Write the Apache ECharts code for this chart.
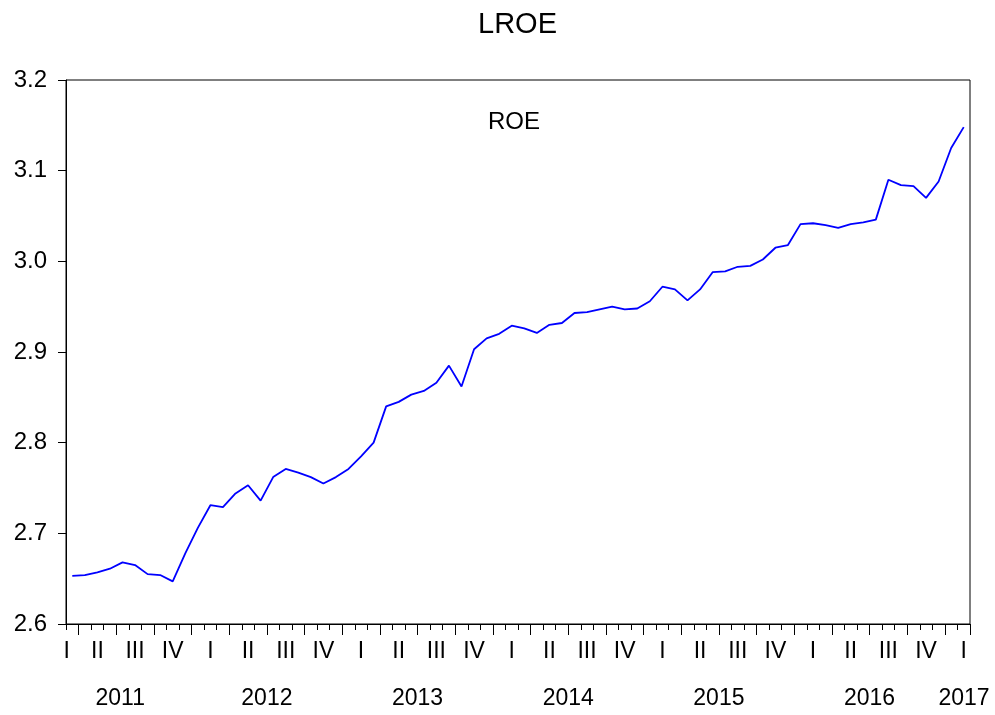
<!DOCTYPE html>
<html><head><meta charset="utf-8">
<script src="https://cdn.jsdelivr.net/npm/echarts@6/dist/echarts.min.js"></script>
<style>html,body{margin:0;padding:0;background:#fff}#c{width:995px;height:715px}</style>
</head><body><div id="c"></div>
<script>
const months = [
  '2011M03','2011M04','2011M05','2011M06','2011M07','2011M08','2011M09','2011M10','2011M11','2011M12',
  '2012M01','2012M02','2012M03','2012M04','2012M05','2012M06','2012M07','2012M08','2012M09','2012M10','2012M11','2012M12',
  '2013M01','2013M02','2013M03','2013M04','2013M05','2013M06','2013M07','2013M08','2013M09','2013M10','2013M11','2013M12',
  '2014M01','2014M02','2014M03','2014M04','2014M05','2014M06','2014M07','2014M08','2014M09','2014M10','2014M11','2014M12',
  '2015M01','2015M02','2015M03','2015M04','2015M05','2015M06','2015M07','2015M08','2015M09','2015M10','2015M11','2015M12',
  '2016M01','2016M02','2016M03','2016M04','2016M05','2016M06','2016M07','2016M08','2016M09','2016M10','2016M11','2016M12',
  '2017M01','2017M02'
];
const lroe = [
  2.653, 2.654, 2.657, 2.661, 2.668, 2.665, 2.655, 2.654, 2.647, 2.678,
  2.706, 2.731, 2.729, 2.744, 2.753, 2.736, 2.762, 2.771, 2.767, 2.762, 2.755, 2.762,
  2.771, 2.785, 2.800, 2.840, 2.845, 2.853, 2.857, 2.866, 2.885, 2.862, 2.903, 2.915,
  2.920, 2.929, 2.926, 2.921, 2.930, 2.932, 2.943, 2.944, 2.947, 2.950, 2.947, 2.948,
  2.956, 2.972, 2.969, 2.957, 2.969, 2.988, 2.989, 2.994, 2.995, 3.002, 3.015, 3.018,
  3.041, 3.042, 3.040, 3.037, 3.041, 3.043, 3.046, 3.090, 3.084, 3.083, 3.070, 3.088,
  3.125, 3.148
];
const quarterLabels = ['I', 'II', 'III', 'IV'];
const yearLabels = ['2011', '2012', '2013', '2014', '2015', '2016', '2017'];
const yMin = 2.6, yMax = 3.2, yStep = 0.1;
const seriesName = 'ROE';
const chartTitle = 'LROE';

const FONT = "'Liberation Sans', Arial, sans-serif";
const boundaries = months.concat(['2017M03']);

const monthAxisData = months.map(function (m, i) {
  if (i === 0) return { value: m, textStyle: { padding: [0, 11, 0, 0] } };
  return m;
});
const boundaryAxisData = boundaries.map(function (m, i) {
  if (i === 4) return { value: m, textStyle: { padding: [0, 0, 0, 8] } };
  if (i === boundaries.length - 1) return { value: m, textStyle: { padding: [0, 12, 0, 0] } };
  return m;
});

function quarterOf(m) { return quarterLabels[Math.floor((parseInt(m.slice(5), 10) - 1) / 3)]; }

const chart = echarts.init(document.getElementById('c'), null, { renderer: 'canvas' });
chart.setOption({
  animation: false,
  backgroundColor: '#ffffff',
  textStyle: { fontFamily: FONT },
  title: {
    text: chartTitle, left: 478, top: 10, padding: 0,
    textStyle: { fontFamily: FONT, fontSize: 29, fontWeight: 'normal', color: '#000' }
  },
  legend: {
    data: [seriesName], icon: 'none', itemWidth: 0, itemHeight: 0, padding: 0,
    left: 483, top: 110, selectedMode: false,
    textStyle: { fontFamily: FONT, fontSize: 24, color: '#000' }
  },
  grid: {
    left: 66, right: 25, top: 80, bottom: 91,
    show: true, borderColor: '#000', borderWidth: 1, backgroundColor: 'transparent'
  },
  xAxis: [
    {
      type: 'category', data: monthAxisData, boundaryGap: true, position: 'bottom',
      axisLine: { show: true, lineStyle: { color: '#000', width: 1 } },
      axisTick: { show: true, interval: 0, length: 6, lineStyle: { color: '#000', width: 1 } },
      axisLabel: {
        interval: function (i) { return i === 0 || i % 3 === 2; },
        formatter: function (v) { return quarterOf(v); },
        fontFamily: FONT, fontSize: 23, color: '#000', margin: 16
      },
      splitLine: { show: false }
    },
    {
      type: 'category', data: months, boundaryGap: true, position: 'bottom',
      axisLine: { show: false },
      axisTick: { show: true, interval: function (i) { return i % 3 === 1; }, length: 11, lineStyle: { color: '#000', width: 1 } },
      axisLabel: { show: false },
      splitLine: { show: false }
    },
    {
      type: 'category', data: boundaryAxisData, boundaryGap: false, position: 'bottom',
      axisLine: { show: false },
      axisTick: { show: false },
      axisLabel: {
        interval: function (i, v) { return v.slice(5) === '07' || i === boundaries.length - 1; },
        formatter: function (v) { var y = v.slice(0, 4); return yearLabels.indexOf(y) >= 0 ? y : ''; },
        fontFamily: FONT, fontSize: 23, color: '#000', margin: 63
      },
      splitLine: { show: false }
    }
  ],
  yAxis: {
    type: 'value', min: yMin, max: yMax, interval: yStep,
    axisLine: { show: true, lineStyle: { color: '#000', width: 1 } },
    axisTick: { show: true, length: 8, lineStyle: { color: '#000', width: 1 } },
    axisLabel: {
      formatter: function (v) { return v.toFixed(1); },
      fontFamily: FONT, fontSize: 24, color: '#000', margin: 19
    },
    splitLine: { show: false }
  },
  series: [{
    name: seriesName, type: 'line', xAxisIndex: 0, data: lroe,
    showSymbol: false, symbol: 'none',
    lineStyle: { color: '#0000ff', width: 1.8 },
    itemStyle: { color: '#0000ff' }
  }]
});
</script>
</body></html>
